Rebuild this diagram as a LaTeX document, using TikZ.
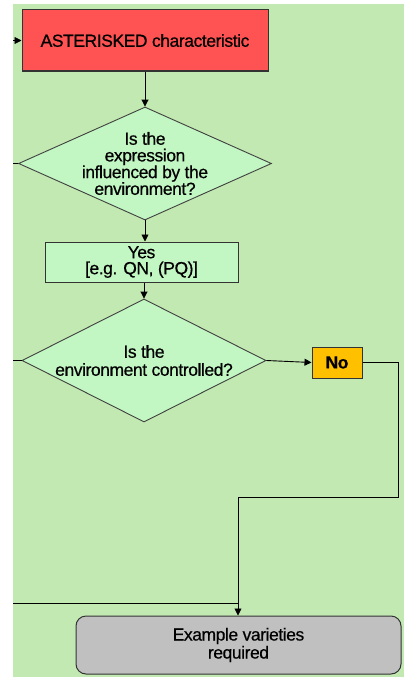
\documentclass[tikz,border=0pt]{standalone}
\usepackage{fontspec}
\setmainfont{Liberation Sans}[LetterSpace=-2.5, FakeBold=0.5]
\usetikzlibrary{shapes.geometric,arrows.meta}
\definecolor{bggreen}{RGB}{195,233,178}
\definecolor{lightgreen}{RGB}{194,246,194}
\definecolor{redbox}{RGB}{255,82,82}
\definecolor{orangebox}{RGB}{255,192,0}
\definecolor{graybox}{RGB}{192,192,192}
\tikzset{
  every node/.style={font=\fontsize{17.5}{17}\selectfont, text=black, align=center},
  box/.style={draw=black!80, line width=1pt, rectangle, inner sep=0pt},
  dia/.style={draw=black!75, line width=0.9pt, diamond, fill=lightgreen, inner sep=0pt},
  conn/.style={draw=black, line width=0.9pt},
  arr/.style={conn, -{Triangle[length=7pt,width=7pt]}}
}
\begin{document}
\begin{tikzpicture}[x=1pt,y=-1pt]
\useasboundingbox (0,0) rectangle (404,677);
\fill[bggreen] (13,4) rectangle (404,677);
% nodes
\node[box, fill=redbox, minimum width=246pt, minimum height=61pt] (red) at (145,40.5) {ASTERISKED characteristic};
\node[dia, minimum width=253pt, minimum height=113pt,
  label={[align=center, font=\fontsize{17.5}{16.7}\selectfont]center:Is the\\expression\\influenced by the\\environment?}] (d1) at (145,163.5) {};
\node[box, fill=lightgreen, minimum width=193pt, minimum height=40pt, font=\fontsize{17.5}{16}\selectfont] (yes) at (141.5,262) {Yes\\{[e.g. QN, (PQ)]}};
\node[dia, minimum width=244pt, minimum height=123pt,
  label={[align=center, font=\fontsize{17.5}{18}\selectfont]center:Is the\\environment controlled?}] (d2) at (144,360.5) {};
\node[box, fill=orangebox, minimum width=50pt, minimum height=31pt, font=\fontsize{17.5}{17}\selectfont\bfseries] (no) at (337,362.5) {No};
\node[box, fill=graybox, rounded corners=10pt, minimum width=325pt, minimum height=58pt, font=\fontsize{17.5}{18}\selectfont] (ex) at (238.5,645) {Example varieties\\required};
% free ends
\coordinate (inRed) at (13,40.5);
\coordinate (inD1) at (13,163.5);
\coordinate (inD2) at (13,360.5);
\coordinate (inEx) at (13,603);
\coordinate (c1) at (398,362.5);
\coordinate (c2) at (398,497);
\coordinate (c3) at (238,497);
\coordinate (c4) at (238,603);
% connectors
\draw[arr] (inRed) -- (red.west);
\draw[arr] (red.south -| d1.north) -- (d1.north);
\draw[conn] (inD1) -- (d1.west);
\draw[arr] (d1.south) -- (d1.south |- yes.north);
\draw[arr] (yes.south -| d2.north) -- (d2.north);
\draw[conn] (inD2) -- (d2.west);
\draw[arr] (d2.east) -- (no.west);
\draw[conn] (no.east) -- (c1) -- (c2) -- (c3) -- (c4);
\draw[arr] (c4) -- (c4 |- ex.north);
\draw[conn] (inEx) -- (c4);
\end{tikzpicture}
\end{document}
